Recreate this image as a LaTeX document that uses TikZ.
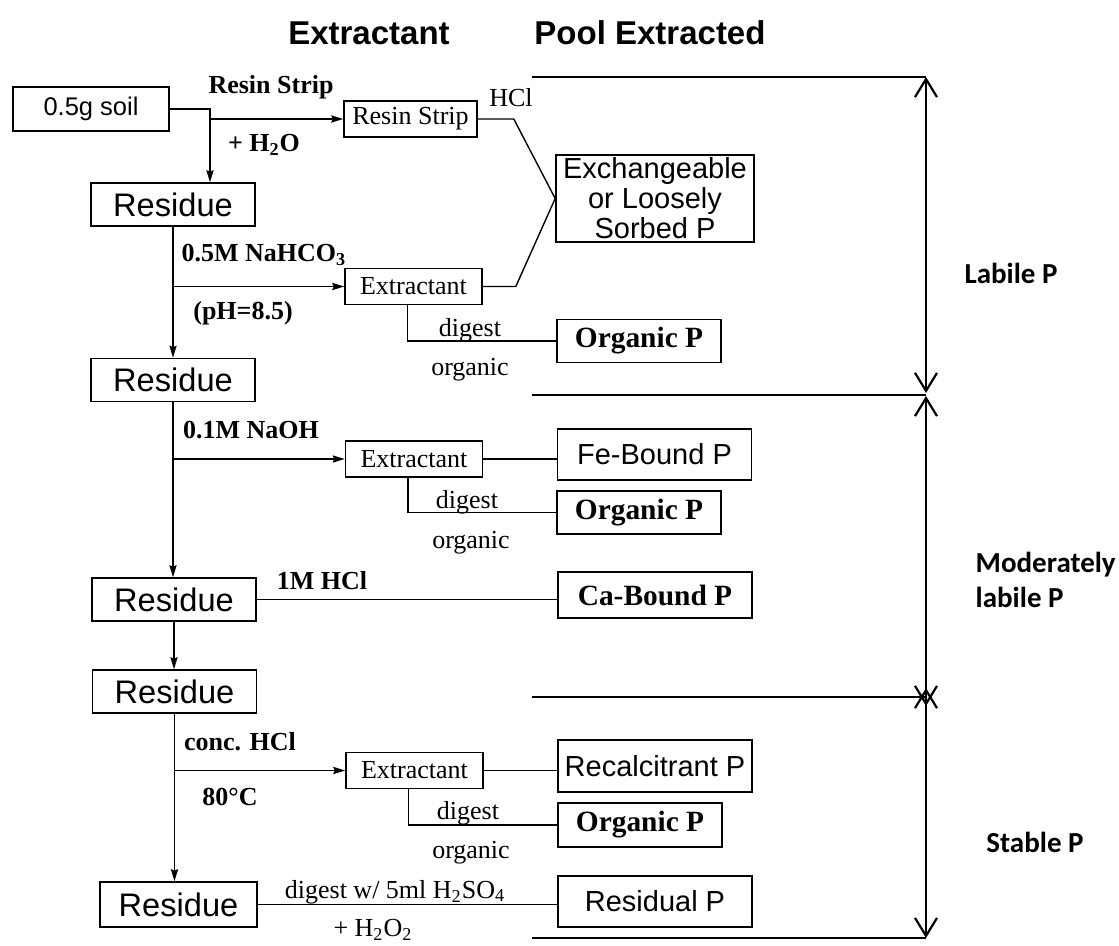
\documentclass[tikz,border=0pt]{standalone}
\usepackage{fontspec}
\setmainfont{Liberation Serif}
\newfontfamily\arialf{Liberation Sans}
\newfontfamily\calibf{Carlito}
\usetikzlibrary{arrows.meta}

\begin{document}
\begin{tikzpicture}[x=0.5pt,y=-0.5pt,line width=0.7pt,
    >={Stealth[length=6pt,width=3.6pt,inset=0.8pt]},
    box/.style={draw,line width=0.8pt,inner sep=0pt},
    resbox/.style={box,minimum width=82pt,minimum height=21.5pt,font=\arialf\fontsize{16.3}{18}\selectfont},
    extbox/.style={box,minimum width=68.5pt,minimum height=18pt,font=\fontsize{13}{15}\selectfont},
    poolbox/.style={box,minimum width=97pt,minimum height=25.5pt,font=\arialf\fontsize{14.5}{15}\selectfont},
    orgbox/.style={box,minimum width=82pt,minimum height=21.5pt,font=\bfseries\fontsize{14.7}{16}\selectfont},
    title/.style={font=\arialf\bfseries\fontsize{16.5}{18}\selectfont,inner sep=0pt},
    lbl/.style={font=\bfseries\fontsize{13}{15}\selectfont,inner sep=0pt},
    note/.style={font=\fontsize{13}{15}\selectfont,inner sep=0pt},
    fraction/.style={font=\calibf\bfseries\fontsize{14.5}{17.5}\selectfont,align=left,inner sep=0pt},
    bracket/.style={line width=1.1pt},
    pool/.style={bracket,{Straight Barb[length=9pt,width=11pt]}-{Straight Barb[length=9pt,width=11pt]}}]
  \useasboundingbox (0,0) rectangle (1119,946);

  \node[title] (hext)  at (369,33) {Extractant};
  \node[title] (hpool) at (650,33) {Pool Extracted};

  % sequence of residues
  \node[box,minimum width=78pt,minimum height=22pt,font=\arialf\fontsize{12.75}{14}\selectfont] (soil) at (91,109) {0.5g soil};
  \node[resbox] (res1) at (173,204.5) {Residue};
  \node[resbox] (res2) at (173,380)   {Residue};
  \node[resbox] (res3) at (174,599.5) {Residue};
  \node[resbox] (res4) at (174.5,691.5) {Residue};
  \node[resbox,minimum width=78.5pt,minimum height=22.5pt] (res5) at (178.5,904.5) {Residue};

  % extracts
  \node[extbox,minimum width=66.5pt] (resin) at (410.5,119) {Resin Strip};
  \node[extbox] (ext1) at (413.5,286.5) {Extractant};
  \node[extbox] (ext2) at (414,459)     {Extractant};
  \node[extbox] (ext3) at (414.5,770.5) {Extractant};

  % pools
  \node[poolbox,minimum width=99pt,minimum height=43.5pt,align=center] (exch) at (655,198.5) {Exchangeable\\or Loosely\\Sorbed P};
  \node[orgbox] (org1) at (639,341) {Organic P};
  \node[poolbox] (fe) at (654.5,454.5) {Fe-Bound P};
  \node[orgbox] (org2) at (639,512.5) {Organic P};
  \node[poolbox,minimum height=23pt,font=\bfseries\fontsize{14.7}{16}\selectfont] (ca) at (655,595) {Ca-Bound P};
  \node[poolbox,minimum height=26pt] (rec) at (655,766) {Recalcitrant P};
  \node[orgbox,minimum height=22pt] (org3) at (640,825) {Organic P};
  \node[poolbox] (resid) at (655,901.5) {Residual P};

  \coordinate (soilbend) at (210,109);
  \draw[->] (soil.east) -- (soilbend) -- (soilbend |- res1.north);
  \draw[->] (soilbend |- resin.west) -- (resin.west);
  \draw (resin.east) -- ++(36,0) -- (exch.west);
  \draw (ext1.east) -- ++(33,0) -- (exch.west);

  \draw[->] (res1.south) -- (res1.south |- res2.north);
  \draw[->] (res1.south |- ext1.west) -- (ext1.west);
  \draw ([xshift=-3pt]ext1.south) |- (org1.west);

  \draw[->] (res2.south) -- (res2.south |- res3.north);
  \draw[->] (res2.south |- ext2.west) -- (ext2.west);
  \draw (ext2.east) -- (ext2.east -| fe.west);
  \draw ([xshift=-3pt]ext2.south) |- (org2.west);

  \draw (res3.east) -- (res3.east -| ca.west);
  \draw[->] (res3.south) -- (res3.south |- res4.north);

  \draw[->] (res4.south) -- (res4.south |- res5.north);
  \draw[->] (res4.south |- ext3.west) -- (ext3.west);
  \draw (ext3.east) -- (ext3.east -| rec.west);
  \draw ([xshift=-3pt]ext3.south) |- (org3.west);
  \draw (res5.east) -- (res5.east -| resid.west);

  \node[lbl]  (lresin)  at (271,87)  {Resin Strip};
  \node[lbl]  (lwater)  at (264,145) {+ H\textsubscript{2}O};
  \node[note] (lhcl)    at (511,98)  {HCl};
  \node[lbl]  (lbicarb) at (264,255) {0.5M NaHCO\textsubscript{3}};
  \node[lbl]  (lph)     at (243,313) {(pH=8.5)};
  \node[note] (ldig1)   at (470,330) {digest};
  \node[note] (lorg1)   at (470,370) {organic};
  \node[lbl]  (lnaoh)   at (251,430) {0.1M NaOH};
  \node[note] (ldig2)   at (467,502) {digest};
  \node[note] (lorg2)   at (471,543) {organic};
  \node[lbl]  (lhcl1)   at (322,581) {1M HCl};
  \node[lbl]  (lconc)   at (240,742) {conc. HCl};
  \node[lbl]  (ltemp)   at (230,797) {80°C};
  \node[note] (ldig3)   at (468,813) {digest};
  \node[note] (lorg3)   at (471,853) {organic};
  \node[note] (lsulf)   at (395,892) {digest w/ 5ml H\textsubscript{2}SO\textsubscript{4}};
  \node[note] (lperox)  at (373,930) {+ H\textsubscript{2}O\textsubscript{2}};

  % fractions
  \coordinate (b0) at (926,77);
  \coordinate (b1) at (926,395);
  \coordinate (b2) at (926,697);
  \coordinate (b3) at (926,938);
  \draw[bracket] (b0) -- ++(-394,0) (b1) -- ++(-394,0) (b2) -- ++(-394,0) (b3) -- ++(-394,0);
  \draw[pool] (b0) -- ([yshift=1pt]b1);
  \draw[pool] ([yshift=-0.5pt]b1) -- ([yshift=-4.5pt]b2);
  \draw[pool] ([yshift=4.5pt]b2) -- (b3);

  \node[fraction] (labile) at (1011,273) {Labile P};
  \node[fraction,anchor=west] (moderate) at (975,580) {Moderately\\labile P};
  \node[fraction] (stable) at (1035,842) {Stable P};
\end{tikzpicture}
\end{document}
